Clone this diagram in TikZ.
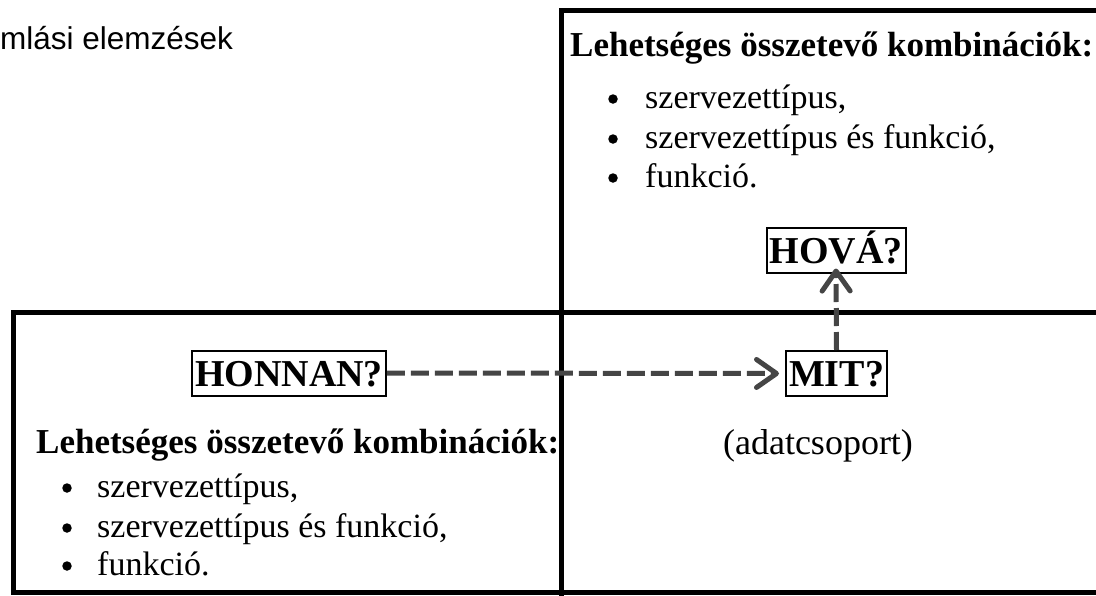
\documentclass[tikz,border=0pt]{standalone}
\usepackage{fontspec}
\setmainfont{Liberation Serif}
\newfontfamily\arialfont{Liberation Sans}
\usetikzlibrary{arrows.meta}
\definecolor{arrowgray}{HTML}{454545}
\tikzset{
  frame/.style={line width=5pt, draw=black},
  qbox/.style={draw=black, line width=2pt, inner xsep=3pt, inner ysep=9.5pt, fill=white,
    text height=26pt, text depth=0pt,
    font=\fontsize{38}{42}\selectfont\bfseries},
  heading/.style={anchor=base west, inner sep=0pt, font=\fontsize{35}{40}\selectfont\bfseries},
  item/.style={anchor=base west, inner sep=0pt, font=\fontsize{34}{40}\selectfont},
  bul/.style={circle, fill=black, inner sep=0pt, minimum size=9.5pt},
  flow/.style={draw=arrowgray, line width=5pt, dash pattern=on 18pt off 6pt,
    -{Straight Barb[length=20pt, width=28pt, line width=5pt, line cap=round, line join=round]}},
}
\begin{document}
\begin{tikzpicture}[x=1pt, y=-1pt]
\clip (0,0) rectangle (1096,595);
\fill[white] (0,0) rectangle (1096,595);
% frames
\draw[frame] (561,600) -- (561,10.5) -- (1110,10.5);
\draw[frame] (1110,312) -- (13,312) -- (13,592.5) -- (1110,592.5);
% top-left caption
\node[anchor=base west, inner sep=0pt, font=\arialfont\fontsize{31.5}{36}\selectfont] (cap) at (0,49) {mlási elemzések};
% top-right list
\node[heading] (h1) at (570,56) {Lehetséges összetevő kombinációk:};
\node[bul] (b1a) at (613,99) {};
\node[item] (t1a) at (645,108) {szervezettípus,};
\node[bul] (b1b) at (613,139) {};
\node[item] (t1b) at (645,148) {szervezettípus és funkció,};
\node[bul] (b1c) at (613,178) {};
\node[item] (t1c) at (645,187) {funkció.};
% bottom-left list
\node[heading] (h2) at (36,453) {Lehetséges összetevő kombinációk:};
\node[bul] (b2a) at (67,488) {};
\node[item] (t2a) at (97,497) {szervezettípus,};
\node[bul] (b2b) at (67,528) {};
\node[item] (t2b) at (97,537) {szervezettípus és funkció,};
\node[bul] (b2c) at (67,566) {};
\node[item] (t2c) at (97,575) {funkció.};
% question boxes
\node[qbox] (hova) at (836,250) {HOVÁ?};
\node[qbox] (mit) at (836.5,373.5) {MIT?};
\node[qbox] (honnan) at (289,373) {HONNAN?};
\node[anchor=base, inner sep=0pt, font=\fontsize{36}{40}\selectfont] (adat) at (818,454) {(adatcsoport)};
% connectors
\draw[flow] (honnan.east) -- ([xshift=-6pt]mit.west);
\draw[flow] (mit.north) -- ([yshift=5pt]hova.south);
\end{tikzpicture}
\end{document}
